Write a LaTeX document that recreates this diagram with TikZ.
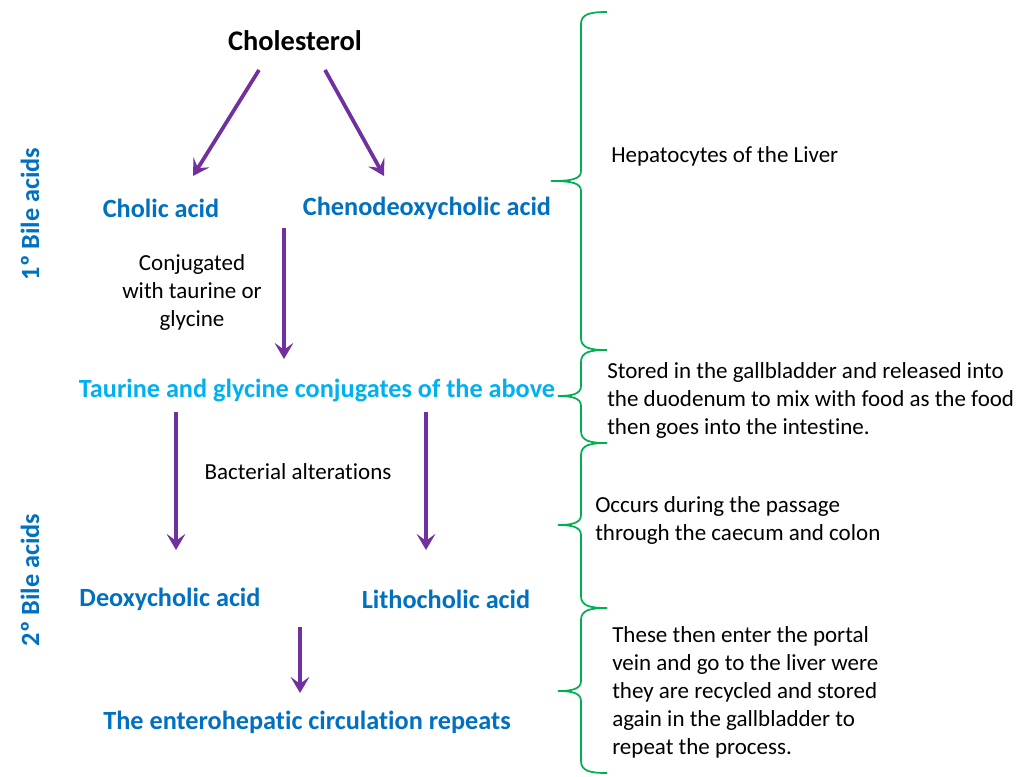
\documentclass[tikz,border=0pt]{standalone}
\usepackage{fontspec}
\setmainfont{Carlito}[Ligatures=NoCommon]
\usetikzlibrary{arrows.meta}
\definecolor{dblue}{RGB}{0,112,192}
\definecolor{lblue}{RGB}{0,176,240}
\definecolor{purp}{RGB}{112,48,160}
\definecolor{brgreen}{RGB}{0,176,80}
\tikzset{
  big/.style={font=\fontsize{19.7}{23}\selectfont\bfseries, text=dblue, inner sep=0pt},
  small/.style={font=\fontsize{17.25}{21}\selectfont, text=black, inner sep=0pt},
  note/.style={small, align=left, anchor=west},
  parrow/.style={draw=purp, line width=2.8pt, -{Stealth[length=12pt,width=14pt,inset=5pt]}},
  bracestyle/.style={draw=brgreen, line width=1.3pt},
}
\newcommand{\mybrace}[4]{% top, tip y, bottom, tip x
  \draw[bracestyle] (607,#1) .. controls (590,#1) and (581,#1+2) .. (581,#1+12)
    -- (581,#2-10) .. controls (581,#2-2) and (572,#2) .. (#4,#2)
    .. controls (572,#2) and (581,#2+2) .. (581,#2+10)
    -- (581,#3-12) .. controls (581,#3-2) and (590,#3) .. (607,#3);}
\begin{document}
\begin{tikzpicture}[x=0.75pt,y=-0.75pt]
\useasboundingbox (0,0) rectangle (1026,776);
\fill[white] (0,0) rectangle (1026,776);
% main nodes
\node[big, text=black, font=\fontsize{21.3}{25}\selectfont\bfseries] (chol) at (295,41) {Cholesterol};
\node[big] (cholic) at (161,208) {Cholic acid};
\node[big] (cheno) at (427,208) {Chenodeoxycholic acid};
\node[big, text=lblue] (taur) at (317,391) {Taurine and glycine conjugates of the above};
\node[big] (deoxy) at (170,599) {Deoxycholic acid};
\node[big] (litho) at (446,599) {Lithocholic acid};
\node[big] (entero) at (307,722) {The enterohepatic circulation repeats};
\node[big, rotate=90] (prim) at (30,214) {1º Bile acids};
\node[big, rotate=90] (sec) at (30,580) {2º Bile acids};
% small labels
\node[small, align=center] (conj) at (192,292) {Conjugated\\with taurine or\\glycine};
\node[small] (bact) at (298,472) {Bacterial alterations};
% arrows
\coordinate (a1s) at (259,70); \coordinate (a1e) at (193,176);
\coordinate (a2s) at (325,70); \coordinate (a2e) at (384,176);
\coordinate (a3s) at (284,228); \coordinate (a3e) at (284,359);
\coordinate (a4s) at (176,412); \coordinate (a4e) at (176,550);
\coordinate (a5s) at (426,412); \coordinate (a5e) at (426,550);
\coordinate (a6s) at (300,627); \coordinate (a6e) at (300,693);
\draw[parrow] (a1s) -- (a1e);
\draw[parrow] (a2s) -- (a2e);
\draw[parrow] (a3s) -- (a3e);
\draw[parrow] (a4s) -- (a4e);
\draw[parrow] (a5s) -- (a5e);
\draw[parrow] (a6s) -- (a6e);
% braces
\mybrace{12}{181}{350}{551}
\mybrace{350}{396}{443}{558}
\mybrace{443}{525}{608}{558}
\mybrace{608}{691}{773}{558}
% notes
\node[note] (n1) at (611,156) {Hepatocytes of the Liver};
\node[note] (n2) at (607,400) {Stored in the gallbladder and released into\\the duodenum to mix with food as the food\\then goes into the intestine.};
\node[note] (n3) at (595,520) {Occurs during the passage\\through the caecum and colon};
\node[note] (n4) at (612,692) {These then enter the portal\\vein and go to the liver were\\they are recycled and stored\\again in the gallbladder to\\repeat the process.};
\end{tikzpicture}
\end{document}
